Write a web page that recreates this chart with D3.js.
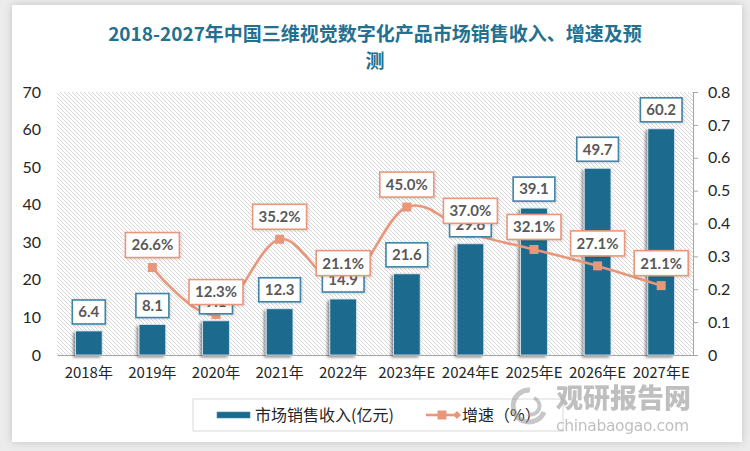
<!DOCTYPE html>
<html>
<head>
<meta charset="utf-8">
<script src="https://cdn.jsdelivr.net/npm/d3@7/dist/d3.min.js"></script>
<style>
  html, body { margin: 0; padding: 0; background: #ececec; }
  svg { display: block; }
</style>
</head>
<body>
<svg id="chart" width="750" height="451"></svg>
<script>
// ---- data ----
const categories = ["2018年","2019年","2020年","2021年","2022年","2023年E","2024年E","2025年E","2026年E","2027年E"];
const revenue = [6.4, 8.1, 9.1, 12.3, 14.9, 21.6, 29.6, 39.1, 49.7, 60.2];
const growth = [null, 0.266, 0.123, 0.352, 0.211, 0.450, 0.370, 0.321, 0.271, 0.211];
const growthLabels = [null, "26.6%", "12.3%", "35.2%", "21.1%", "45.0%", "37.0%", "32.1%", "27.1%", "21.1%"];
const leftTicks = [0, 10, 20, 30, 40, 50, 60, 70];
const rightTicks = [0, 0.1, 0.2, 0.3, 0.4, 0.5, 0.6, 0.7, 0.8];
const titleLines = ["2018-2027年中国三维视觉数字化产品市场销售收入、增速及预", "测"];
const legendNames = ["市场销售收入(亿元)", "增速（%）"];

// ---- styles ----
const barColor = "#1b6a8d";
const lineColor = "#e9977a";
const titleColor = "#23708f";
const textColor = "#262626";
const labelText = "#595959";

const svg = d3.select("#chart");
const defs = svg.append("defs");

// card shadow
const fCard = defs.append("filter").attr("id","cardShadow").attr("x","-5%").attr("y","-5%").attr("width","110%").attr("height","110%");
fCard.append("feDropShadow").attr("dx",0).attr("dy",0).attr("stdDeviation",4).attr("flood-color","#000").attr("flood-opacity",0.18);

// bar shadow
const fBar = defs.append("filter").attr("id","barShadow").attr("x","-50%").attr("y","-20%").attr("width","200%").attr("height","140%");
fBar.append("feDropShadow").attr("dx",-2).attr("dy",2).attr("stdDeviation",1.8).attr("flood-color","#000").attr("flood-opacity",0.45);

// label shadow
const fLab = defs.append("filter").attr("id","labShadow").attr("x","-20%").attr("y","-30%").attr("width","140%").attr("height","160%");
fLab.append("feDropShadow").attr("dx",1).attr("dy",1).attr("stdDeviation",1).attr("flood-color","#000").attr("flood-opacity",0.15);

// hatch pattern
const pat = defs.append("pattern").attr("id","hatch").attr("patternUnits","userSpaceOnUse").attr("width",4).attr("height",4);
pat.append("rect").attr("width",4).attr("height",4).attr("fill","#ffffff");
pat.append("path").attr("d","M-1,-1 L5,5 M3,-1 L5,1 M-1,3 L1,5").attr("stroke","#d6d6d6").attr("stroke-width",1);

// background card
svg.append("rect").attr("x",0).attr("y",0).attr("width",750).attr("height",451).attr("fill","#ececec");
svg.append("rect").attr("x",12).attr("y",5).attr("width",730).attr("height",437).attr("fill","#ffffff").attr("filter","url(#cardShadow)");

// title
const title = svg.append("text").attr("text-anchor","middle")
  .attr("font-family","'Noto Sans CJK SC', sans-serif").attr("font-size",19).attr("font-weight",600)
  .attr("fill",titleColor);
title.selectAll("tspan").data(titleLines).join("tspan")
  .attr("x",375).attr("y",(d,i)=>41 + i*27).text(d=>d);

// plot area
const plot = {left:57, right:693, top:92, bottom:355};
const x = d3.scaleBand().domain(categories).range([plot.left, plot.right]).paddingInner(0.58).paddingOuter(0.29);
const xc = d => x(d) + x.bandwidth()/2;
const yL = d3.scaleLinear().domain([0,70]).range([plot.bottom, plot.top]);
const yR = d3.scaleLinear().domain([0,0.8]).range([plot.bottom, plot.top]);

svg.append("rect").attr("x",plot.left).attr("y",plot.top).attr("width",plot.right-plot.left).attr("height",plot.bottom-plot.top).attr("fill","url(#hatch)");

// left axis (labels only)
const axL = svg.append("g").attr("transform",`translate(${plot.left},0)`)
  .call(d3.axisLeft(yL).tickValues(leftTicks).tickSize(0).tickPadding(16).tickFormat(d3.format("d")));
axL.select(".domain").remove();
axL.selectAll("text").attr("font-family","Lato, 'Liberation Sans', sans-serif").attr("font-size",16).attr("fill",textColor);

// right axis
const axR = svg.append("g").attr("transform",`translate(${plot.right},0)`)
  .call(d3.axisRight(yR).tickValues(rightTicks).tickSize(5).tickPadding(10).tickFormat(d => d===0 ? "0" : d3.format(".1f")(d)));
axR.select(".domain").attr("stroke","#a6a6a6").attr("stroke-width",1);
axR.selectAll(".tick line").attr("stroke","#a6a6a6");
axR.selectAll("text").attr("font-family","Lato, 'Liberation Sans', sans-serif").attr("font-size",16).attr("fill",textColor);

// x axis
const axX = svg.append("g").attr("transform",`translate(0,${plot.bottom})`)
  .call(d3.axisBottom(x).tickSize(0).tickPadding(12));
axX.select(".domain").attr("stroke","#a6a6a6").attr("stroke-width",1.2);
axX.selectAll("text").attr("font-family","'Noto Sans CJK SC', sans-serif").attr("font-size",15).attr("fill",textColor);

// bars
svg.append("g").selectAll("rect").data(revenue).join("rect")
  .attr("x",(d,i)=>x(categories[i])).attr("y",d=>yL(d))
  .attr("width",x.bandwidth()).attr("height",d=>plot.bottom - yL(d))
  .attr("fill",barColor).attr("stroke","#dfe9ef").attr("stroke-width",0.8)
  .attr("filter","url(#barShadow)");

// line
const pts = growth.map((g,i)=>({g, c:categories[i], lab:growthLabels[i]})).filter(p=>p.g!==null);
const line = d3.line().x(p=>xc(p.c)).y(p=>yR(p.g)).curve(d3.curveCardinal.tension(0));
svg.append("path").datum(pts).attr("d",line).attr("fill","none").attr("stroke",lineColor).attr("stroke-width",2.6);
svg.append("g").selectAll("rect").data(pts).join("rect")
  .attr("x",p=>xc(p.c)-4.5).attr("y",p=>yR(p.g)-4.5).attr("width",9).attr("height",9).attr("fill",lineColor);

// label helper
function boxLabel(g, cx, bottom, txt, border, h) {
  const grp = g.append("g");
  const r = grp.append("rect").attr("fill","#ffffff").attr("stroke",border).attr("stroke-width",1.6).attr("filter","url(#labShadow)");
  const t = grp.append("text").attr("x",cx).attr("y",bottom - h/2).attr("dy","0.36em").attr("text-anchor","middle")
    .attr("font-family","Lato, 'Liberation Sans', sans-serif").attr("font-weight",700).attr("font-size",15).attr("fill",labelText).text(txt);
  const w = t.node().getComputedTextLength() + 12;
  r.attr("x",cx - w/2).attr("y",bottom - h).attr("width",w).attr("height",h);
}

// bar labels
const gBarLab = svg.append("g");
revenue.forEach((v,i)=>{
  boxLabel(gBarLab, xc(categories[i]), yL(v) - 7, d3.format(".1f")(v), "#3f84a6", 24);
});
// growth labels
const gPctLab = svg.append("g");
pts.forEach(p=>{
  boxLabel(gPctLab, xc(p.c), yR(p.g) - 10, p.lab, lineColor, 25);
});

// legend
const lg = svg.append("g");
lg.append("rect").attr("x",193).attr("y",399).attr("width",370).attr("height",32).attr("fill","#ffffff").attr("stroke","#d9d9d9").attr("stroke-width",1);
lg.append("rect").attr("x",217).attr("y",412).attr("width",33).attr("height",6).attr("fill",barColor).attr("stroke","#4a87a6").attr("stroke-width",0.6);
lg.append("text").attr("x",255).attr("y",415).attr("dy","0.35em").attr("font-family","'Noto Sans CJK SC', sans-serif").attr("font-size",16).attr("fill",textColor).text(legendNames[0]);
lg.append("line").attr("x1",426).attr("x2",457).attr("y1",415).attr("y2",415).attr("stroke",lineColor).attr("stroke-width",2.6);
lg.append("rect").attr("x",437.5).attr("y",410.5).attr("width",9).attr("height",9).attr("fill",lineColor);
lg.append("path").attr("d","M457,411 L461,415 L457,419 L453,415 Z").attr("fill",lineColor);
lg.append("text").attr("x",462).attr("y",415).attr("dy","0.35em").attr("font-family","'Noto Sans CJK SC', sans-serif").attr("font-size",16).attr("fill",textColor).text(legendNames[1]);

// watermark
const wm = svg.append("g").attr("opacity",0.55);
wm.append("path").attr("d","M530,390 A16,16 0 1,0 544,412").attr("fill","none").attr("stroke","#9a9a9a").attr("stroke-width",5);
wm.append("path").attr("d","M534,398 A8,8 0 1,1 528,414").attr("fill","none").attr("stroke","#9a9a9a").attr("stroke-width",4);
wm.append("text").attr("x",556).attr("y",408).attr("font-family","'Noto Sans CJK SC', sans-serif").attr("font-weight",900).attr("font-size",27).attr("fill","#8c8c8c").text("观研报告网");
wm.append("text").attr("x",556).attr("y",431).attr("font-family","'DejaVu Sans', sans-serif").attr("font-size",15.5).attr("fill","#8c8c8c").attr("textLength",133).text("chinabaogao.com");
</script>
</body>
</html>
